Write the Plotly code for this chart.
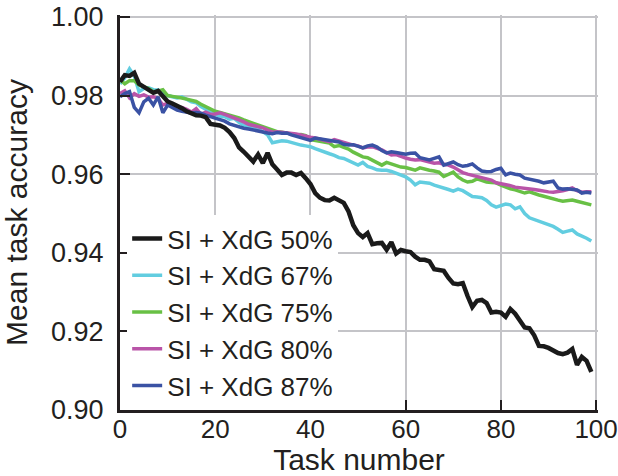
import plotly.graph_objects as go

tasks = list(range(100))

acc_50 = [0.9835, 0.9852, 0.9850, 0.9858, 0.9830, 0.9822, 0.9812, 0.9807, 0.9812, 0.9800,
          0.9785, 0.9780, 0.9775, 0.9768, 0.9760, 0.9755, 0.9750, 0.9749, 0.9745, 0.9728,
          0.9725, 0.9724, 0.9718, 0.9707, 0.9692, 0.9668, 0.9657, 0.9645, 0.9632, 0.9650,
          0.9628, 0.9654, 0.9625, 0.9612, 0.9598, 0.9604, 0.9604, 0.9598, 0.9603, 0.9590,
          0.9575, 0.9552, 0.9540, 0.9534, 0.9533, 0.9540, 0.9535, 0.9527, 0.9505, 0.9470,
          0.9450, 0.9440, 0.9450, 0.9422, 0.9424, 0.9425, 0.9408, 0.9427, 0.9398, 0.9407,
          0.9404, 0.9402, 0.9390, 0.9382, 0.9382, 0.9378, 0.9358, 0.9356, 0.9354, 0.9336,
          0.9322, 0.9320, 0.9323, 0.9290, 0.9262, 0.9278, 0.9280, 0.9272, 0.9248, 0.9250,
          0.9248, 0.9237, 0.9257, 0.9245, 0.9225, 0.9210, 0.9208, 0.9190, 0.9163, 0.9162,
          0.9158, 0.9150, 0.9145, 0.9142, 0.9146, 0.9155, 0.9115, 0.9135, 0.9125, 0.9097]

acc_67 = [0.9830, 0.9845, 0.9868, 0.9850, 0.9810, 0.9818, 0.9820, 0.9815, 0.9814, 0.9808,
          0.9800, 0.9797, 0.9794, 0.9797, 0.9790, 0.9784, 0.9782, 0.9772, 0.9765, 0.9758,
          0.9752, 0.9748, 0.9746, 0.9740, 0.9742, 0.9732, 0.9724, 0.9722, 0.9718, 0.9715,
          0.9708, 0.9700, 0.9680, 0.9683, 0.9685, 0.9684, 0.9680, 0.9678, 0.9674, 0.9672,
          0.9670, 0.9665, 0.9660, 0.9657, 0.9652, 0.9648, 0.9642, 0.9640, 0.9635, 0.9628,
          0.9623, 0.9630, 0.9620, 0.9616, 0.9611, 0.9610, 0.9610, 0.9607, 0.9603, 0.9597,
          0.9593, 0.9585, 0.9573, 0.9580, 0.9578, 0.9577, 0.9572, 0.9569, 0.9566, 0.9561,
          0.9557, 0.9562, 0.9558, 0.9550, 0.9543, 0.9542, 0.9540, 0.9533, 0.9522, 0.9516,
          0.9520, 0.9524, 0.9522, 0.9512, 0.9517, 0.9500, 0.9489, 0.9485, 0.9479, 0.9475,
          0.9472, 0.9467, 0.9460, 0.9452, 0.9455, 0.9458, 0.9448, 0.9443, 0.9437, 0.9430]

acc_75 = [0.9840, 0.9830, 0.9838, 0.9838, 0.9827, 0.9822, 0.9818, 0.9810, 0.9811, 0.9815,
          0.9800, 0.9798, 0.9797, 0.9794, 0.9791, 0.9788, 0.9785, 0.9778, 0.9772, 0.9766,
          0.9760, 0.9757, 0.9754, 0.9751, 0.9748, 0.9743, 0.9738, 0.9734, 0.9730, 0.9725,
          0.9722, 0.9718, 0.9713, 0.9708, 0.9707, 0.9705, 0.9703, 0.9700, 0.9701, 0.9698,
          0.9688, 0.9686, 0.9683, 0.9681, 0.9679, 0.9670, 0.9673, 0.9668, 0.9664, 0.9656,
          0.9650, 0.9644, 0.9642, 0.9636, 0.9630, 0.9623, 0.9630, 0.9626, 0.9620, 0.9618,
          0.9617, 0.9613, 0.9610, 0.9616, 0.9612, 0.9610, 0.9608, 0.9605, 0.9594, 0.9600,
          0.9605, 0.9593, 0.9585, 0.9580, 0.9582, 0.9588, 0.9584, 0.9580, 0.9579, 0.9578,
          0.9572, 0.9567, 0.9563, 0.9560, 0.9556, 0.9552, 0.9555, 0.9550, 0.9547, 0.9544,
          0.9540, 0.9537, 0.9534, 0.9531, 0.9532, 0.9534, 0.9531, 0.9528, 0.9525, 0.9522]

acc_80 = [0.9805, 0.9812, 0.9794, 0.9805, 0.9798, 0.9802, 0.9796, 0.9797, 0.9792, 0.9776,
          0.9780, 0.9778, 0.9771, 0.9770, 0.9765, 0.9758, 0.9767, 0.9752, 0.9758, 0.9752,
          0.9753, 0.9756, 0.9752, 0.9748, 0.9742, 0.9738, 0.9733, 0.9727, 0.9724, 0.9722,
          0.9718, 0.9712, 0.9707, 0.9708, 0.9707, 0.9706, 0.9705, 0.9702, 0.9700, 0.9696,
          0.9694, 0.9692, 0.9689, 0.9687, 0.9683, 0.9688, 0.9684, 0.9680, 0.9677, 0.9674,
          0.9672, 0.9667, 0.9669, 0.9670, 0.9666, 0.9662, 0.9655, 0.9649, 0.9650, 0.9645,
          0.9641, 0.9638, 0.9636, 0.9637, 0.9633, 0.9631, 0.9628, 0.9629, 0.9625, 0.9623,
          0.9618, 0.9610, 0.9604, 0.9600, 0.9597, 0.9595, 0.9593, 0.9590, 0.9585, 0.9578,
          0.9576, 0.9574, 0.9571, 0.9567, 0.9566, 0.9565, 0.9563, 0.9561, 0.9559, 0.9556,
          0.9555, 0.9554, 0.9555, 0.9558, 0.9561, 0.9565, 0.9558, 0.9554, 0.9555, 0.9555]

acc_87 = [0.9797, 0.9805, 0.9810, 0.9770, 0.9756, 0.9784, 0.9793, 0.9776, 0.9797, 0.9756,
          0.9776, 0.9770, 0.9763, 0.9760, 0.9758, 0.9756, 0.9757, 0.9755, 0.9750, 0.9746,
          0.9742, 0.9738, 0.9735, 0.9728, 0.9724, 0.9720, 0.9717, 0.9715, 0.9712, 0.9710,
          0.9708, 0.9705, 0.9703, 0.9706, 0.9704, 0.9705, 0.9700, 0.9696, 0.9692, 0.9688,
          0.9686, 0.9692, 0.9690, 0.9688, 0.9687, 0.9686, 0.9682, 0.9676, 0.9674, 0.9675,
          0.9672, 0.9667, 0.9672, 0.9674, 0.9669, 0.9660, 0.9654, 0.9657, 0.9655, 0.9652,
          0.9651, 0.9653, 0.9654, 0.9642, 0.9640, 0.9636, 0.9640, 0.9644, 0.9623, 0.9628,
          0.9631, 0.9624, 0.9620, 0.9622, 0.9626, 0.9616, 0.9608, 0.9606, 0.9607, 0.9612,
          0.9615, 0.9598, 0.9603, 0.9600, 0.9598, 0.9590, 0.9588, 0.9585, 0.9582, 0.9578,
          0.9580, 0.9582, 0.9565, 0.9562, 0.9563, 0.9561, 0.9560, 0.9552, 0.9554, 0.9552]

x_ticks = [0, 20, 40, 60, 80, 100]
y_ticks = [0.90, 0.92, 0.94, 0.96, 0.98, 1.00]

series = [
    ("SI + XdG 67%", acc_67, "#62cde0", 3.5, 2),
    ("SI + XdG 75%", acc_75, "#68c045", 3.5, 3),
    ("SI + XdG 80%", acc_80, "#b954a8", 3.5, 4),
    ("SI + XdG 87%", acc_87, "#3a52a4", 3.5, 5),
    ("SI + XdG 50%", acc_50, "#1a1a1a", 4.5, 1),
]

FONT = "Liberation Sans, Arial, Helvetica, sans-serif"

fig = go.Figure()
for name, vals, color, w, rank in series:
    fig.add_trace(go.Scatter(
        x=tasks, y=vals, mode="lines", name=name,
        line=dict(color=color, width=w), legendrank=rank,
    ))

fig.update_layout(
    width=618, height=476,
    margin=dict(l=120, r=20, t=15, b=66, autoexpand=False),
    paper_bgcolor="white", plot_bgcolor="white",
    font=dict(family=FONT, size=27, color="#231f20"),
    legend=dict(
        x=0.015, y=0.0, xanchor="left", yanchor="bottom",
        bgcolor="white", borderwidth=0,
        font=dict(size=26, color="#231f20"),
        tracegroupgap=0, itemwidth=30,
    ),
    showlegend=True,
)

fig.update_xaxes(
    range=[0, 100.4], tickvals=x_ticks, ticktext=[str(v) for v in x_ticks],
    tickfont=dict(size=26),
    showgrid=True, gridcolor="#c4c4c8", gridwidth=2,
    showline=True, linecolor="#231f20", linewidth=3,
    ticks="inside", ticklen=10, tickwidth=1.5, tickcolor="#231f20",
    zeroline=False, ticklabelstandoff=-6, automargin=False,
    ticklabeloverflow="allow",
    title=dict(text="Task number", font=dict(size=30), standoff=15),
)
fig.update_yaxes(
    range=[0.90, 1.0005], tickvals=y_ticks, ticktext=[f"{v:.2f}" for v in y_ticks],
    showgrid=True, gridcolor="#c4c4c8", gridwidth=2,
    showline=True, linecolor="#231f20", linewidth=3,
    ticks="inside", ticklen=10, tickwidth=1.5, tickcolor="#231f20",
    zeroline=False, ticklabelstandoff=8, automargin=False,
    ticklabeloverflow="allow",
    title=dict(text="Mean task accuracy", font=dict(size=30), standoff=16),
)

fig.write_html("out.html")
